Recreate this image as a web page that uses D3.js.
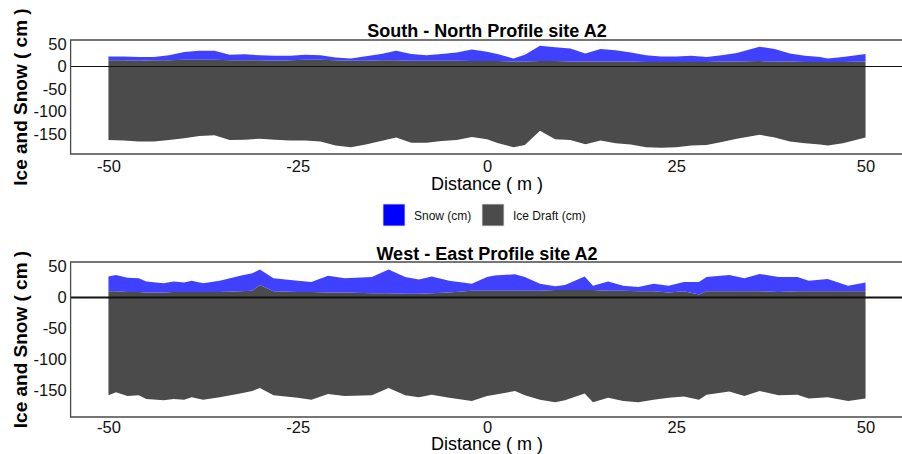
<!DOCTYPE html>
<html>
<head>
<meta charset="utf-8">
<script src="https://cdn.jsdelivr.net/npm/d3@7"></script>
<style>
  html, body { margin: 0; padding: 0; background: #fff; }
  svg { display: block; font-family: "Liberation Sans", Arial, sans-serif; }
</style>
</head>
<body>
<svg id="chart" width="902" height="454"></svg>
<script>
// ---------- DATA ----------
// South - North profile
const distNS = [-50,-48,-46,-44,-42,-40,-38,-36,-34,-32,-30,-28,-26,-24,-22,-20,-18,-16,-14,-12,-10,-8,-6,-4,-2,0,1.5,3.5,5,7,9,11,13,15,17,19,21,23,25,27,29,31,33,36,38,40,42,44,45,47,50];
const snowNS   = [22,22,21,21,25,32,35,35,26,27,25,24,24,26,25,20,18,23,28,35,28,25,28,31,38,33,27,18,26,46,43,40,29,39,36,31,25,22,22,24,21,25,30,44,39,29,24,21,18,21,28];
const iceTopNS = [14,14,13,14,14,15,15,15,14,14,14,13,14,15,15,14,13,13,14,14,13,13,13,13,12,12,12,11,11,12,12,11,11,11,11,11,10,10,10,10,10,11,11,12,11,11,10,10,10,10,11];
const draftNS  = [-164,-165,-167,-167,-164,-160,-155,-153,-164,-163,-161,-163,-165,-165,-167,-176,-180,-174,-166,-158,-170,-170,-166,-164,-157,-162,-171,-180,-175,-143,-162,-164,-173,-165,-171,-174,-180,-181,-180,-176,-175,-168,-161,-152,-158,-167,-171,-174,-176,-171,-158];

// West - East profile
const distWE = [-50,-49,-47.5,-46,-45,-42.7,-41.4,-40,-39,-37.5,-35.3,-32.6,-31,-30,-28.2,-25,-23.2,-21,-18.8,-15.2,-13,-10.8,-9,-7.3,-5,-2,0,1,3.7,5,7,9,10.3,12.9,14,16,18,20,22,24,26,28,29,32,34,36,38.5,41,42.5,45,47.7,50];
const snowWE   = [34,36.5,32,31,26,23,26,24,27,23,27,35,39,45,31,27,25,35,31,33,45,33,29,34,27,22,33,35.5,37.6,33,22,18,20,34,19,26,19,17,22,19,25,25,33,36.5,31,38,33,33,27,30,19,24];
const iceTopWE = [10,10,9,9,8,8,9,9,9,9,9,10,11,20,10,9,9,8,8,7,7,6,6,7,8,11,11,11,11,11,11,12,12,12,12,11,11,10,10,8,10,5,10,10,10,10,9,10,10,10,10,10];
const draftWE  = [-158,-153,-159,-158,-164,-166,-164,-165,-161,-165,-161,-155,-151,-146,-158,-162,-165,-156,-159,-158,-146,-158,-161,-157,-162,-167,-159,-157,-151,-158,-165,-169,-166,-155,-169,-162,-167,-169,-165,-162,-160,-165,-157,-152,-159,-151,-158,-157,-163,-161,-167,-163];

const xTicks = [-50,-25,0,25,50];
const yTicks = [50,0,-50,-100,-150];
const legendLabels = ["Snow (cm)", "Ice Draft (cm)"];

// ---------- STYLE / LAYOUT ----------
const SNOW_FILL = "#4040ff";
const SNOW_KEY = "#0000ff";
const ICE_FILL = "#4b4b4b";
const fmt = d => String(d);   // plain hyphen-minus as in the reference

const svg = d3.select("#chart");
const x = d3.scaleLinear().domain([-55, 55]).range([70.6, 903.4]);

const panels = [
  { title: "South - North Profile site A2", dist: distNS, snow: snowNS, top: iceTopNS, draft: draftNS,
    y0: 40, y1: 154, domain: [-195, 59], titleY: 37, xTitleY: 190, zeroW: 1.2, pad: 6.5 },
  { title: "West - East Profile site A2", dist: distWE, snow: snowWE, top: iceTopWE, draft: draftWE,
    y0: 262, y1: 417, domain: [-193, 57.3], titleY: 260, xTitleY: 450, zeroW: 1.8, pad: 4.5 }
];

panels.forEach(p => {
  const y = d3.scaleLinear().domain(p.domain).range([p.y1, p.y0]);
  const rows = p.dist.map((d, i) => ({ d, snow: p.snow[i], top: p.top[i], draft: p.draft[i] }));
  const g = svg.append("g");

  g.append("path").datum(rows)
    .attr("fill", ICE_FILL)
    .attr("d", d3.area().x(r => x(r.d)).y0(r => y(r.draft)).y1(r => y(r.top)));
  g.append("path").datum(rows)
    .attr("fill", SNOW_FILL)
    .attr("d", d3.area().x(r => x(r.d)).y0(r => y(r.top)).y1(r => y(r.snow)));

  g.append("line")
    .attr("x1", x.range()[0]).attr("x2", x.range()[1])
    .attr("y1", y(0)).attr("y2", y(0))
    .attr("stroke", "#111").attr("stroke-width", p.zeroW);

  g.append("path")
    .attr("d", `M${x.range()[1]},${p.y0}H${x.range()[0]}V${p.y1}H${x.range()[1]}`)
    .attr("fill", "none").attr("stroke", "#4a4a4a").attr("stroke-width", 1.3);

  const xa = g.append("g").attr("transform", `translate(0,${p.y1})`)
    .call(d3.axisBottom(x).tickValues(xTicks).tickFormat(fmt).tickSize(0).tickPadding(p.pad));
  xa.select(".domain").remove();
  xa.selectAll("text").attr("font-size", 16.5).attr("fill", "#111").style("font-family", "Liberation Sans, Arial, sans-serif");

  const ya = g.append("g").attr("transform", `translate(${x.range()[0]},0)`)
    .call(d3.axisLeft(y).tickValues(yTicks).tickFormat(fmt).tickSize(0).tickPadding(4));
  ya.select(".domain").remove();
  ya.selectAll("text").attr("font-size", 16.5).attr("fill", "#111").style("font-family", "Liberation Sans, Arial, sans-serif");

  g.append("text").attr("x", 487).attr("y", p.titleY).attr("text-anchor", "middle")
    .attr("font-size", 18).attr("font-weight", "bold").attr("fill", "#000").text(p.title);
  g.append("text").attr("x", 487).attr("y", p.xTitleY).attr("text-anchor", "middle")
    .attr("font-size", 18).attr("fill", "#000").text("Distance ( m )");
  g.append("text")
    .attr("transform", `translate(27,${(p.y0 + p.y1) / 2}) rotate(-90)`)
    .attr("text-anchor", "middle").attr("font-size", 19).attr("font-weight", "bold")
    .attr("fill", "#000").text("Ice and Snow ( cm )");
});

const keys = [
  { label: legendLabels[0], fill: SNOW_KEY, x: 383 },
  { label: legendLabels[1], fill: ICE_FILL, x: 482 }
];
const lg = svg.append("g");
keys.forEach(k => {
  lg.append("rect").attr("x", k.x).attr("y", 204).attr("width", 22).attr("height", 22)
    .attr("fill", k.fill).attr("stroke", "#e6e6e6").attr("stroke-width", 0.8);
  lg.append("text").attr("x", k.x + 31).attr("y", 219.5)
    .attr("font-size", 12).attr("fill", "#111").text(k.label);
});
</script>
</body>
</html>
